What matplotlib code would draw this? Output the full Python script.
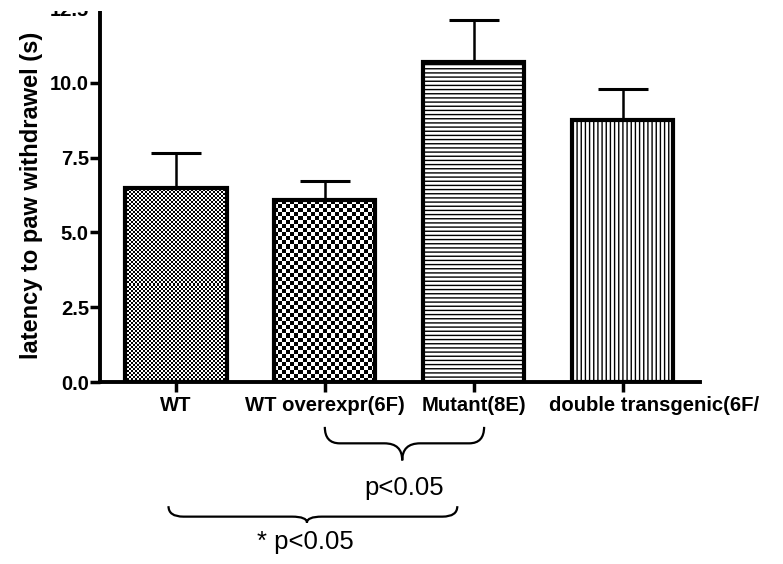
import numpy as np
import matplotlib
matplotlib.use('Agg')
import matplotlib.pyplot as plt
from matplotlib.path import Path
from matplotlib.patches import PathPatch, Rectangle
from matplotlib.transforms import ScaledTranslation

plt.rcParams['font.family'] = ['Liberation Sans', 'DejaVu Sans']
plt.rcParams['hatch.linewidth'] = 1.0

groups = ['WT', 'WT overexpr(6F)', 'Mutant(8E)', 'double transgenic(6F/']
means = [6.5, 6.07, 10.7, 8.76]
sems = [1.17, 0.66, 1.4, 1.04]
yticks = [0.0, 2.5, 5.0, 7.5, 10.0, 12.5]

# texture per bar: ('checker', cell px) or ('hatch', pattern)
fills = [('checker', 2), ('checker', 4), ('hatch', '----'), ('hatch', '||||')]

fig = plt.figure(figsize=(7.83, 5.64), dpi=100)
ax = fig.add_axes([100 / 783, 182 / 564, 600 / 783, 374 / 564])
x = np.arange(len(groups))

bars = []
for i in range(len(groups)):
    kind, val = fills[i]
    if kind == 'checker':
        b = ax.bar(x[i], means[i], width=0.68, facecolor='none', edgecolor='black',
                   linewidth=3, zorder=2)[0]
    else:
        b = ax.bar(x[i], means[i], width=0.68, facecolor='white', edgecolor='black',
                   hatch=val, linewidth=3, zorder=2)[0]
    bars.append(b)

ax.errorbar(x, means, yerr=[np.zeros(len(means)), sems], fmt='none', ecolor='black',
            elinewidth=1.8, capsize=18, capthick=2.2, zorder=1)

ax.set_xlim(-0.51, 3.52)
ax.set_ylim(0, 12.5)

# pixel-sized checker textures clipped to the bars
for b, (kind, cell) in zip(bars, fills):
    if kind != 'checker':
        continue
    x0, w, h = b.get_x(), b.get_width(), b.get_height()
    p0 = ax.transData.transform((x0, 0))
    p1 = ax.transData.transform((x0 + w, h))
    nc = int(round((p1[0] - p0[0]) / cell))
    nr = int(round((p1[1] - p0[1]) / cell))
    grid = (np.add.outer(np.arange(nr), np.arange(nc)) % 2).astype(float)
    im = ax.imshow(grid, extent=[x0, x0 + w, 0, h], cmap='gray', vmin=0, vmax=1,
                   interpolation='nearest', aspect='auto', zorder=1.5)
    im.set_clip_path(b)

ax.set_xlim(-0.51, 3.52)
ax.set_ylim(0, 12.5)

for s in ['top', 'right']:
    ax.spines[s].set_visible(False)
for s in ['left', 'bottom']:
    ax.spines[s].set_linewidth(2.8)

ax.set_yticks(yticks)
ax.set_yticklabels(['%.1f' % v for v in yticks], fontsize=14.5, fontweight='bold')
ax.set_xticks(x)
ax.set_xticklabels(groups, fontsize=14.6, fontweight='bold')
ax.tick_params(axis='both', direction='out', length=7, width=2.5)
ax.tick_params(axis='x', pad=3)
ax.tick_params(axis='y', pad=1)
ax.set_ylabel('latency to paw withdrawel (s)', fontsize=17, fontweight='bold', labelpad=5)

# last label sits to the right of its tick in the original
lab = ax.get_xticklabels()[-1]
lab.set_transform(lab.get_transform() + ScaledTranslation(0.31, 0, fig.dpi_scale_trans))


def brace(ax, x0, x1, xt, ytop, ymid, ytip, rend, rtip, lw=1.6):
    verts = [(x0, ytop), (x0, ymid), (x0 + rend, ymid),
             (xt - rtip, ymid),
             (xt, ymid), (xt, ytip),
             (xt, ymid), (xt + rtip, ymid),
             (x1 - rend, ymid),
             (x1, ymid), (x1, ytop)]
    codes = [Path.MOVETO, Path.CURVE3, Path.CURVE3,
             Path.LINETO,
             Path.CURVE3, Path.CURVE3,
             Path.CURVE3, Path.CURVE3,
             Path.LINETO,
             Path.CURVE3, Path.CURVE3]
    ax.add_patch(PathPatch(Path(verts, codes), fill=False, edgecolor='black', lw=lw,
                           clip_on=False))


brace(ax, 1.0, 2.07, 1.52, -1.5, -2.05, -2.62, 0.1, 0.12)
ax.text(1.53, -3.55, 'p<0.05', fontsize=18.5, ha='center', va='center', clip_on=False)
brace(ax, -0.05, 1.89, 0.88, -4.15, -4.5, -4.7, 0.1, 0.1)
ax.text(0.87, -5.35, '* p<0.05', fontsize=18.5, ha='center', va='center', clip_on=False)

# the original image is cropped just above the axis top
fig.patches.append(Rectangle((0, 1 - 11 / 564), 1, 11 / 564, transform=fig.transFigure,
                             facecolor='white', edgecolor='none', zorder=10))

fig.savefig('out.png', dpi=100)
